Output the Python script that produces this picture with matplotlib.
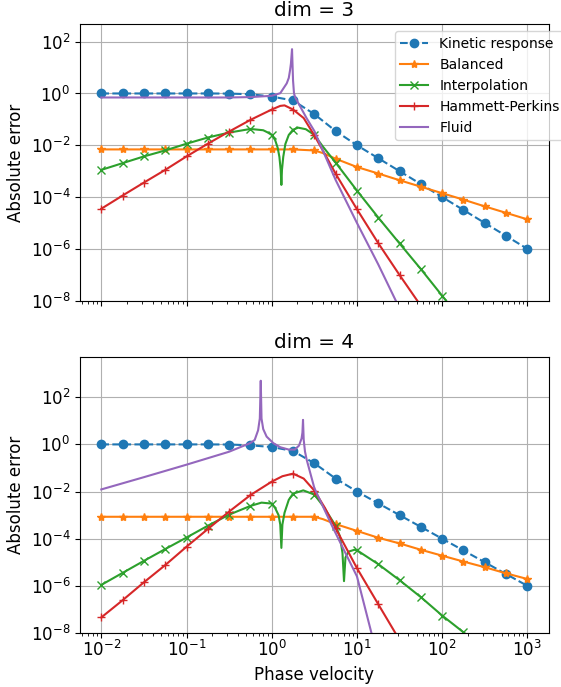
import numpy as np
import matplotlib
matplotlib.use("Agg")
import matplotlib.pyplot as plt
from matplotlib.ticker import NullLocator

plt.rcParams["font.size"] = 12

# exponent grid (log10 of phase velocity) for marker points
grid = [-2, -1.75, -1.5, -1.25, -1, -0.75, -0.5, -0.25, 0, 0.25, 0.5, 0.75,
        1, 1.25, 1.5, 1.75, 2, 2.25, 2.5, 2.75, 3]

# ---- dim = 3 (values are log10 of the absolute error) ----
kin3_x = grid
kin3_y = [0, 0, 0, 0, 0, 0, -0.005, -0.03, -0.12, -0.27, -0.80, -1.45, -2.0,
          -2.5, -3.0, -3.5, -4.0, -4.5, -5.0, -5.5, -6.0]

bal3_x = grid[:11] + [0.6] + grid[11:]
bal3_y = [-2.16] * 10 + [-2.20, -2.30, -2.52, -2.84, -3.09, -3.35, -3.60,
                          -3.85, -4.10, -4.36, -4.61, -4.86]

int3_x = [-2, -1.75, -1.5, -1.25, -1, -0.75, -0.5, -0.25, -0.1, -0.05, 0,
          0.04, 0.07, 0.09, 0.105, 0.113, 0.12, 0.135, 0.16, 0.2, 0.25, 0.31,
          0.4, 0.5, 0.6, 0.75, 1, 1.25, 1.5, 1.75, 2, 2.25]
int3_y = [-2.95, -2.69, -2.43, -2.20, -1.94, -1.70, -1.51, -1.37, -1.42, -1.50,
          -1.60, -1.80, -2.10, -2.45, -2.95, -3.53, -2.95, -2.45, -1.95, -1.60,
          -1.40, -1.32, -1.38, -1.60, -2.05, -2.67, -3.75, -4.79, -5.79, -6.78,
          -7.81, -8.85]

hp3_x = [-2, -1.75, -1.5, -1.25, -1, -0.75, -0.5, -0.25, 0, 0.1, 0.15, 0.25,
         0.375, 0.5, 0.625, 0.75, 1, 1.25, 1.5, 1.75]
hp3_y = [-4.45, -3.94, -3.44, -2.95, -2.43, -1.94, -1.47, -1.02, -0.62, -0.48,
         -0.46, -0.62, -0.95, -1.62, -2.35, -3.10, -4.47, -5.78, -7.01, -8.2]

fl3_x = [-2, -1, -0.5, -0.25, 0, 0.1, 0.176, 0.2, 0.215, 0.225, 0.238, 0.25,
         0.261, 0.275, 0.3, 0.41, 0.5, 0.75, 1, 1.25, 1.5]
fl3_y = [-0.155, -0.155, -0.155, -0.14, -0.09, 0.01, 0.39, 0.6, 0.9, 1.15,
         1.71, 0.5, 0.01, -0.15, -0.3, -0.96, -1.45, -3.34, -5.0, -6.6, -8.3]

# ---- dim = 4 ----
kin4_x = grid
kin4_y = [0, 0, 0, 0, 0, 0, -0.005, -0.04, -0.11, -0.28, -0.80, -1.45, -2.0,
          -2.5, -3.0, -3.5, -4.0, -4.5, -5.0, -5.5, -6.0]

bal4_x = grid[:11] + [0.6] + grid[11:]
bal4_y = [-3.07] * 11 + [-3.17, -3.38, -3.67, -3.96, -4.20, -4.47, -4.72,
                          -4.97, -5.21, -5.47, -5.71]

int4_x = [-2, -1.75, -1.5, -1.25, -1, -0.75, -0.5, -0.25, -0.12, 0, 0.04,
          0.08, 0.1, 0.113, 0.125, 0.15, 0.2, 0.25, 0.37, 0.5, 0.6, 0.75, 0.8,
          0.83, 0.848, 0.865, 0.9, 0.97, 1, 1.25, 1.5, 1.75, 2, 2.25, 2.5]
int4_y = [-5.96, -5.45, -4.94, -4.44, -3.95, -3.45, -2.98, -2.61, -2.47, -2.51,
          -2.70, -3.00, -3.40, -4.39, -3.40, -2.90, -2.35, -2.09, -1.95, -2.13,
          -2.60, -3.45, -3.90, -4.60, -5.80, -4.80, -4.55, -4.47, -4.49, -5.08,
          -5.76, -6.48, -7.26, -7.97, -8.7]

hp4_x = [-2, -1.75, -1.5, -1.25, -1, -0.75, -0.5, -0.25, 0, 0.125, 0.25,
         0.375, 0.5, 0.625, 0.75, 1, 1.25, 1.5]
hp4_y = [-7.34, -6.61, -5.85, -5.12, -4.34, -3.59, -2.85, -2.15, -1.58, -1.35,
         -1.24, -1.45, -1.96, -2.70, -3.56, -5.25, -6.78, -8.3]

fl4_x = [-2, -1.5, -1, -0.5, -0.25, -0.2, -0.16, -0.14, -0.129, -0.12, -0.1,
         -0.06, 0.02, 0.1, 0.2, 0.27, 0.32, 0.35, 0.36, 0.367, 0.375, 0.39,
         0.41, 0.5, 0.7, 1, 1.17]
fl4_y = [-1.91, -1.39, -0.86, -0.31, 0.06, 0.19, 0.6, 1.1, 2.70, 1.1, 0.65,
         0.33, 0.05, -0.12, -0.22, -0.22, -0.05, 0.25, 0.5, 1.04, 0.2, -0.3,
         -0.65, -1.85, -3.4, -5.6, -8.0]

labels = ["Kinetic response", "Balanced", "Interpolation", "Hammett-Perkins", "Fluid"]
titles = ["dim = 3", "dim = 4"]
ytop = [10 ** 2.67, 10 ** 3.72]


def marks(xs):
    return [i for i, v in enumerate(xs) if abs(v * 4 - round(v * 4)) < 1e-9]


def p(v):
    return 10.0 ** np.asarray(v, dtype=float)


DPI = 100
W, H = 561, 687
fig = plt.figure(figsize=(W / DPI, H / DPI), dpi=DPI)
ax1 = fig.add_axes([80 / W, 1 - 300.7 / H, 468.7 / W, 276.4 / H])
ax2 = fig.add_axes([80 / W, 1 - 633 / H, 468.7 / W, 276.3 / H], sharex=ax1)

datasets = [
    [(kin3_x, kin3_y), (bal3_x, bal3_y), (int3_x, int3_y), (hp3_x, hp3_y), (fl3_x, fl3_y)],
    [(kin4_x, kin4_y), (bal4_x, bal4_y), (int4_x, int4_y), (hp4_x, hp4_y), (fl4_x, fl4_y)],
]
styles = [
    dict(color="C0", ls="--", marker="o"),
    dict(color="C1", ls="-", marker="*"),
    dict(color="C2", ls="-", marker="x"),
    dict(color="C3", ls="-", marker="+"),
    dict(color="C4", ls="-", marker=None),
]

for ax, data, title, yt in zip([ax1, ax2], datasets, titles, ytop):
    for (xs, ys), st, lab in zip(data, styles, labels):
        kw = dict(st)
        if kw["marker"] is not None:
            kw["markevery"] = marks(xs)
        ax.plot(p(xs), p(ys), label=lab, **kw)
    ax.set_xscale("log")
    ax.set_yscale("log")
    ax.set_xlim(10 ** -2.25, 10 ** 3.25)
    ax.set_ylim(1e-8, yt)
    ax.set_yticks([1e-8, 1e-6, 1e-4, 1e-2, 1e0, 1e2])
    ax.yaxis.set_minor_locator(NullLocator())
    ax.tick_params(axis="x", which="both", pad=1.5)
    ax.grid(True, which="major")
    ax.set_title(title)
    ax.set_ylabel("Absolute error")

ax1.tick_params(labelbottom=False)
ax2.set_xlabel("Phase velocity")
ax1.legend(loc="upper right", bbox_to_anchor=(1.05, 1.0), fontsize=10)

fig.savefig("out.png", dpi=DPI)
